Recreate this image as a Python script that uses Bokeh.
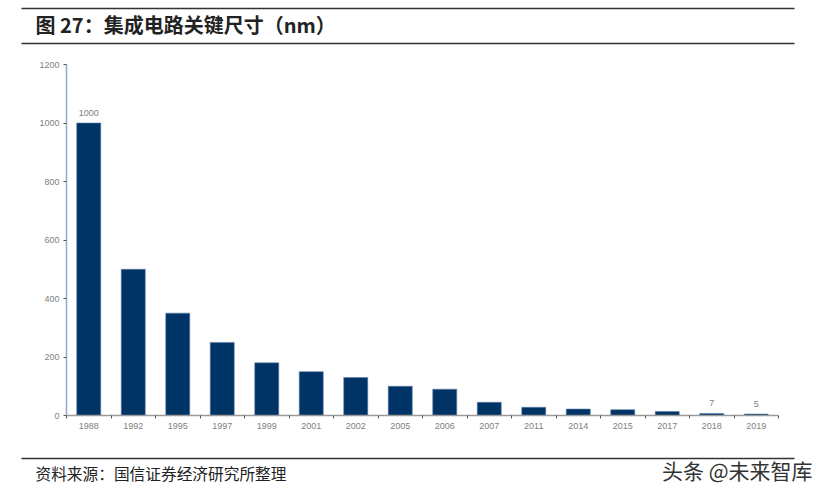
from bokeh.core.properties import value
from bokeh.embed import file_html
from bokeh.layouts import column
from bokeh.models import ColumnDataSource, FixedTicker, Label, LinearAxis, Range1d
from bokeh.plotting import figure
from bokeh.resources import INLINE

years = ["1988", "1992", "1995", "1997", "1999", "2001", "2002", "2005",
         "2006", "2007", "2011", "2014", "2015", "2017", "2018", "2019"]
sizes_nm = [1000, 500, 350, 250, 180, 150, 130, 100, 90, 45, 28, 22, 20, 14, 7, 5]
shown_labels = {"1988": "1000", "2018": "7", "2019": "5"}
y_ticks = [0, 200, 400, 600, 800, 1000, 1200]

title_text = "图 27：集成电路关键尺寸（nm）"
source_text = "资料来源：国信证券经济研究所整理"
watermark_text = "头条 @未来智库"

CJK = "Noto Sans CJK SC"
LATIN = "Liberation Sans"
GREY = "#808080"
NAVY = "#003366"
WIDTH = 827


def band(height):
    #- strip above/below the chart, its ranges are plain pixels
    fig = figure(width=WIDTH, height=height, output_backend="svg", toolbar_location=None,
                 x_range=Range1d(0, WIDTH), y_range=Range1d(height, 0),
                 x_axis_type=None, y_axis_type=None, tools="", min_border=0, frame_align=False)
    fig.outline_line_color = None
    fig.grid.visible = False
    return fig


def rule(fig, y):
    fig.segment([21], [y], [794], [y], line_color="#333333", line_width=1.5)


centres = [i + 0.5 for i in range(len(years))]

p = figure(width=WIDTH, height=395, output_backend="svg", toolbar_location=None,
           x_range=Range1d(0, len(years)), y_range=Range1d(0, 1200),
           x_axis_type=None, y_axis_type=None, tools="", frame_align=False,
           min_border_left=66, min_border_right=49, min_border_top=14, min_border_bottom=30)
p.outline_line_color = None
p.grid.visible = False

#- bars
src = ColumnDataSource(data=dict(x=centres, top=sizes_nm))
p.vbar(x="x", top="top", width=0.54, bottom=0, source=src, fill_color=NAVY,
       line_color="#5f82a8", line_width=0.6)

#- only some of the bars carry a value label
lab_x = [centres[years.index(y)] for y in shown_labels]
lab_y = [sizes_nm[years.index(y)] for y in shown_labels]
p.text(lab_x, lab_y, list(shown_labels.values()), text_font=value(LATIN), text_font_size="9px",
       text_color=GREY, text_align="center", text_baseline="bottom", y_offset=-7)

#- x axis: labels in the middle of each slot, ticks on the slot edges
xaxis = LinearAxis(ticker=FixedTicker(ticks=centres, minor_ticks=list(range(len(years) + 1))))
xaxis.major_label_overrides = {c: y for c, y in zip(centres, years)}
xaxis.major_tick_line_color = None
xaxis.minor_tick_out = 3
xaxis.minor_tick_in = 0
xaxis.minor_tick_line_color = "#555555"
xaxis.axis_line_color = "#9a9a9a"
xaxis.axis_line_width = 1.5
xaxis.major_label_standoff = 1
xaxis.major_label_text_font = LATIN
xaxis.major_label_text_font_size = "9px"
xaxis.major_label_text_color = GREY
p.add_layout(xaxis, "below")

yaxis = LinearAxis(ticker=FixedTicker(ticks=y_ticks, minor_ticks=[]))
yaxis.major_tick_out = 3
yaxis.major_tick_in = 0
yaxis.major_tick_line_color = "#555555"
yaxis.axis_line_color = "#8fa9c8"
yaxis.axis_line_width = 1.5
yaxis.major_label_standoff = 4
yaxis.major_label_text_font = LATIN
yaxis.major_label_text_font_size = "9px"
yaxis.major_label_text_color = GREY
p.add_layout(yaxis, "left")

#- report page header and footer
head = band(50)
rule(head, 8)
rule(head, 43)
head.add_layout(Label(x=35, y=24, x_units="data", y_units="data", text=title_text,
                      text_font=CJK, text_font_size="20px", text_font_style="bold",
                      text_color="#222222", text_baseline="middle"))

foot = band(53)
rule(foot, 13)
foot.add_layout(Label(x=35, y=28, x_units="data", y_units="data", text=source_text,
                      text_font=CJK, text_font_size="15.7px", text_color="#222222",
                      text_baseline="middle"))
foot.add_layout(Label(x=812, y=24, x_units="data", y_units="data", text=watermark_text,
                      text_font=CJK, text_font_size="21px", text_color="#333333",
                      text_align="right", text_baseline="middle"))

layout = column(head, p, foot, spacing=0)
open("out.html", "w").write(file_html(layout, INLINE))
